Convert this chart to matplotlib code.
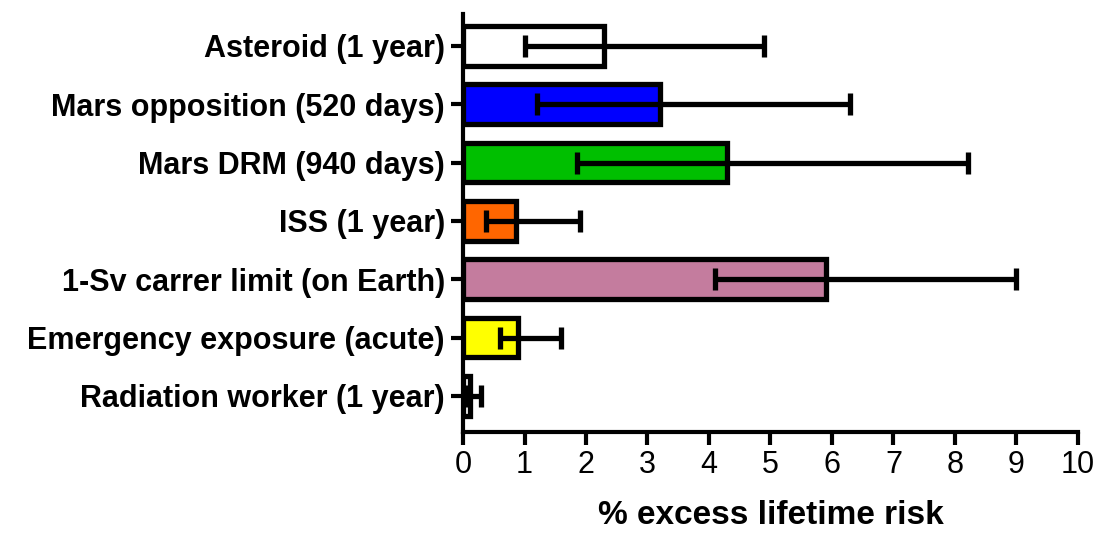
import matplotlib
matplotlib.use("Agg")
import matplotlib.pyplot as plt

# Exposure scenarios, top to bottom
labels = [
    "Asteroid (1 year)",
    "Mars opposition (520 days)",
    "Mars DRM (940 days)",
    "ISS (1 year)",
    "1-Sv carrer limit (on Earth)",
    "Emergency exposure (acute)",
    "Radiation worker (1 year)",
]
risk = [2.3, 3.2, 4.3, 0.86, 5.9, 0.9, 0.12]      # % excess lifetime risk
risk_low = [1.0, 1.2, 1.85, 0.38, 4.1, 0.6, 0.05]  # lower bound of interval
risk_high = [4.9, 6.3, 8.22, 1.9, 9.0, 1.6, 0.3]   # upper bound of interval
colors = ["#FFFFFF", "#0000FF", "#00BF00", "#FF6600", "#C47C9E", "#FFFF00", "#FFFFFF"]

plt.rcParams["font.family"] = ["Liberation Sans", "DejaVu Sans"]

fig = plt.figure(figsize=(11.04, 5.34), dpi=100)
ax = fig.add_axes([0.4194, 0.191, 0.557, 0.783])

ypos = list(range(len(labels)))
ax.barh(ypos, risk, height=0.68, color=colors, edgecolor="black",
        linewidth=3.8, zorder=2)

xerr = [[r - lo for r, lo in zip(risk, risk_low)],
        [hi - r for r, hi in zip(risk, risk_high)]]
ax.errorbar(risk, ypos, xerr=xerr, fmt="none", ecolor="black",
            elinewidth=3.8, capsize=8, capthick=3.8, zorder=3)

ax.set_ylim(len(labels) - 1 + 0.62, -0.55)
ax.set_xlim(0, 10)
ax.set_xticks(range(0, 11))
ax.set_yticks(ypos)
ax.set_yticklabels(labels, fontsize=22, fontweight="bold")

for lbl in ax.get_xticklabels():
    lbl.set_fontsize(22)

ax.spines["top"].set_visible(False)
ax.spines["right"].set_visible(False)
ax.spines["left"].set_linewidth(3)
ax.spines["bottom"].set_linewidth(3)
ax.tick_params(axis="both", direction="out", length=9, width=3, pad=4)

ax.set_xlabel("% excess lifetime risk", fontsize=24, fontweight="bold", labelpad=14)

fig.savefig("out.png", dpi=100)
